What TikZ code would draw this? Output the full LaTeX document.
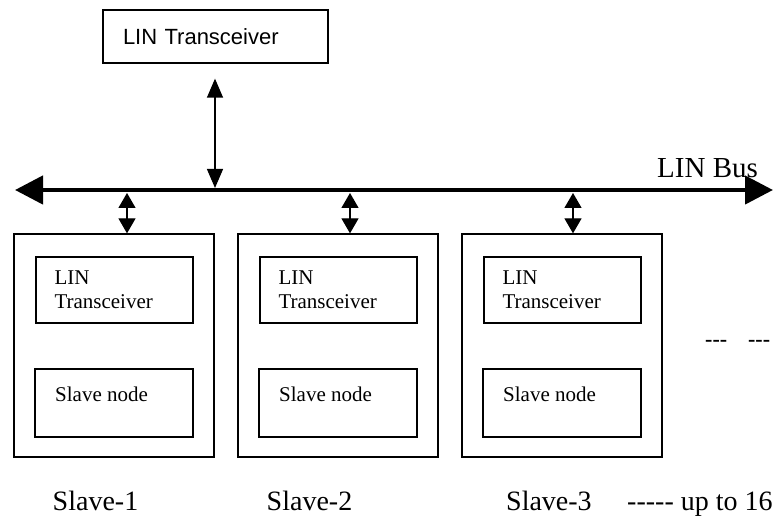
\documentclass[tikz,border=0pt]{standalone}
\usepackage{graphicx}
\usepackage{fontspec}
\setmainfont{Liberation Serif}
\newfontfamily\sansf{Liberation Sans}
\usetikzlibrary{arrows.meta}
\begin{document}
\begin{tikzpicture}[x=1pt,y=-1pt,
  box/.style={draw, line width=1.3pt, inner sep=0pt},
  lbl/.style={inner sep=0pt, font=\fontsize{21}{24}\selectfont},
  biglbl/.style={inner sep=0pt, font=\fontsize{28}{32}\selectfont},
  bus/.style={line width=4.5pt, {Triangle[length=28pt,width=28pt]}-{Triangle[length=28pt,width=28pt]}},
  mlink/.style={line width=1.3pt, {Triangle[length=19pt,width=16pt]}-{Triangle[length=19pt,width=16pt]}},
  slink/.style={line width=1.3pt, {Triangle[length=15pt,width=17pt]}-{Triangle[length=15pt,width=17pt]}}]
\useasboundingbox (0,0) rectangle (780,518);

% master transceiver
\node[box, minimum width=225pt, minimum height=53pt, text width=185pt, inner xsep=20pt,
      align=left, font=\sansf\fontsize{22}{26}\selectfont] (master) at (215.5,36.5) {LIN Transceiver};

% bus
\coordinate (busL) at (15,190);
\coordinate (busR) at (773,190);
\draw[bus] (busL) -- (busR);
\node[anchor=base west, inner sep=0pt, font=\fontsize{29}{34}\selectfont] (buslbl) at (657,178) {LIN Bus};

\coordinate (mtap) at (215,188);
\draw[mlink, shorten <=15pt] (master.south -| mtap) -- (mtap);

% slaves
\foreach \i/\cx/\ax in {1/114/127, 2/338/350, 3/562/573} {
  \node[box, minimum width=200pt, minimum height=223pt] (s\i) at (\cx,345.5) {};
  \node[box, minimum width=157pt, minimum height=66pt, text width=120pt, inner xsep=18.5pt,
        align=left, font=\fontsize{21}{24}\selectfont] (t\i) at (\cx+0.5,290) {LIN\\Transceiver};
  \node[box, minimum width=158pt, minimum height=68pt] (n\i) at (\cx,403) {};
  \node[lbl, anchor=base west] (nt\i) at (\cx-59,402) {Slave node};
  \coordinate (tap\i) at (\ax,193);
  \draw[slink] (tap\i) -- (s\i.north -| tap\i);
}

% labels
\node[biglbl, anchor=base] (l1) at (95.5,511) {Slave-1};
\node[biglbl, anchor=base] (l2) at (309.5,511) {Slave-2};
\node[biglbl, anchor=base west] (l3) at (506,511) {Slave-3};
\node[biglbl, anchor=base west] (upto) at (627,511) {-{}-{}-{}-{}- up to 16};
\node[anchor=base west, inner sep=0pt, font=\bfseries\fontsize{22}{26}\selectfont] (more) at (705,347) {-{}-{}-\hspace{21pt}-{}-{}-};
\end{tikzpicture}
\end{document}
